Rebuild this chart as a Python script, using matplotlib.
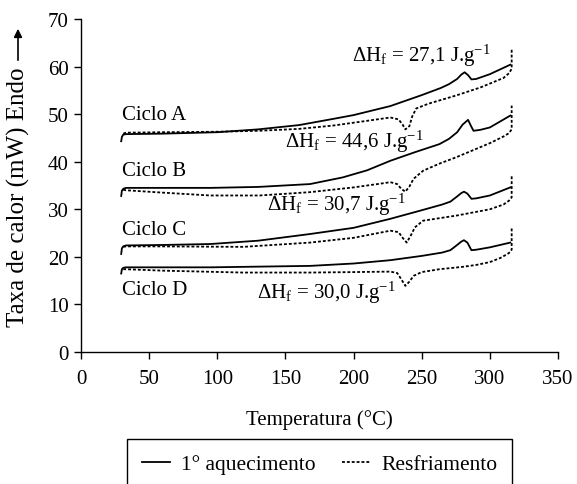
import matplotlib
matplotlib.use("Agg")
import matplotlib.pyplot as plt

plt.rcParams['font.family'] = ['Liberation Serif', 'DejaVu Serif']
plt.rcParams['mathtext.fontset'] = 'custom'
plt.rcParams['mathtext.rm'] = 'Liberation Serif'
plt.rcParams['mathtext.it'] = 'Liberation Serif:italic'

# --- dados ---
# Ciclo A
tA_aq = [29.5, 30, 31, 33, 60, 100, 130, 160, 185, 200, 227, 250, 264, 270, 276, 279, 281.5, 284, 286.5, 290, 300, 315]
yA_aq = [44.3, 45.2, 45.7, 45.8, 45.9, 46.2, 46.8, 47.7, 49.0, 49.8, 51.7, 54.0, 55.5, 56.3, 57.4, 58.3, 58.8, 58.2, 57.3, 57.4, 58.4, 60.4]
tA_rf = [31, 33, 60, 100, 130, 160, 185, 210, 227, 233, 236, 238, 241, 243, 246, 255, 275, 293, 310, 314, 316, 316]
yA_rf = [45.9, 46.1, 46.2, 46.3, 46.5, 46.9, 47.6, 48.6, 49.3, 48.9, 47.8, 46.8, 47.5, 49.5, 51.2, 52.2, 53.9, 55.6, 57.6, 58.6, 59.5, 63.7]

# Ciclo B
tB_aq = [29.5, 30, 31, 33, 60, 95, 130, 168, 192, 210, 227, 245, 263, 270, 276, 280, 284, 286, 288, 293, 300, 315]
yB_aq = [32.8, 33.9, 34.3, 34.5, 34.5, 34.5, 34.7, 35.3, 36.7, 38.2, 40.2, 42.0, 43.7, 44.8, 46.2, 47.8, 48.8, 47.6, 46.5, 46.7, 47.2, 49.7]
tB_rf = [31, 33, 60, 95, 131, 168, 200, 220, 227, 232, 235, 238, 241, 244, 251, 263, 275, 290, 300, 310, 314, 316, 316]
yB_rf = [34.1, 34.0, 33.5, 32.9, 32.9, 33.6, 34.6, 35.4, 35.7, 35.3, 34.3, 33.7, 34.8, 36.4, 38.1, 39.6, 40.9, 42.7, 43.9, 45.3, 46.0, 46.8, 51.8]

# Ciclo C
tC_aq = [29.5, 30, 31, 33, 60, 95, 130, 168, 200, 227, 250, 265, 271, 276, 279, 281, 283.5, 286.5, 290, 300, 315]
yC_aq = [20.6, 21.8, 22.2, 22.4, 22.5, 22.7, 23.4, 24.8, 26.1, 28.0, 29.8, 31.0, 31.6, 32.7, 33.4, 33.7, 33.3, 32.2, 32.3, 32.9, 34.6]
tC_rf = [31, 33, 60, 119, 168, 200, 227, 233, 236, 239, 242, 245, 251, 276, 300, 310, 314, 316, 316]
yC_rf = [22.1, 22.2, 22.2, 22.1, 23.0, 24.0, 25.5, 25.2, 24.0, 23.0, 24.5, 26.2, 27.6, 28.7, 30.0, 31.0, 31.8, 32.5, 37.0]

# Ciclo D
tD_aq = [29.5, 30, 31, 33, 60, 95, 168, 200, 227, 250, 265, 271, 276, 279, 281, 283.5, 286.5, 290, 300, 315]
yD_aq = [16.5, 17.4, 17.7, 17.8, 17.8, 17.8, 18.1, 18.6, 19.3, 20.2, 20.9, 21.4, 22.5, 23.2, 23.5, 23.0, 21.4, 21.5, 22.0, 23.0]
tD_rf = [31, 33, 60, 119, 168, 200, 227, 232, 235, 238, 241, 244, 250, 263, 280, 290, 300, 308, 314, 316, 316]
yD_rf = [17.4, 17.4, 17.1, 16.7, 16.7, 16.8, 16.9, 16.6, 15.3, 13.9, 14.8, 16.0, 16.8, 17.4, 17.9, 18.3, 18.9, 19.8, 20.8, 21.5, 26.2]

ciclos = [
    ("Ciclo A", tA_aq, yA_aq, tA_rf, yA_rf),
    ("Ciclo B", tB_aq, yB_aq, tB_rf, yB_rf),
    ("Ciclo C", tC_aq, yC_aq, tC_rf, yC_rf),
    ("Ciclo D", tD_aq, yD_aq, tD_rf, yD_rf),
]
# rótulos (x, y da linha de base)
rotulos_ciclo = [("Ciclo A", 30, 49.0), ("Ciclo B", 30, 37.3), ("Ciclo C", 30, 24.8), ("Ciclo D", 30, 12.2)]
rotulos_dh = [("27,1", 198.6, 61.2), ("44,6", 149.7, 43.1), ("30,7", 136.2, 29.9), ("30,0", 128.9, 11.4)]

fs = 15
pontilhado = (0, (1.6, 1.1))

fig = plt.figure(figsize=(5.77, 4.85), dpi=100)
ax = fig.add_axes([81/577, 1-353/485, 477/577, 333/485])

for nome, t1, y1, t2, y2 in ciclos:
    l1, = ax.plot(t1, y1, color='black', lw=1.3, solid_joinstyle='round')
    l2, = ax.plot(t2, y2, color='black', lw=1.3, linestyle=pontilhado)

for txt, x, y in rotulos_ciclo:
    ax.text(x, y, txt, fontsize=fs, ha='left', va='baseline')

for val, x, y in rotulos_dh:
    ax.text(x, y, r"ΔH$_\mathrm{f}$ = " + val + r" J.g$^{\mathrm{-1}}$", fontsize=fs, ha='left', va='baseline')

ax.set_xlim(0, 350)
ax.set_ylim(0, 70)
ax.set_xticks(range(0, 351, 50))
ax.set_yticks(range(0, 71, 10))
ax.spines['top'].set_visible(False)
ax.spines['right'].set_visible(False)
ax.spines['left'].set_linewidth(1.0)
ax.spines['bottom'].set_linewidth(1.0)
ax.tick_params(direction='out', length=5, width=1.0, labelsize=fs)
ax.tick_params(axis='x', pad=7.5)
ax.tick_params(axis='y', pad=4)
ax.set_xlabel("Temperatura (°C)", fontsize=fs)
ax.xaxis.set_label_coords(0.5, -(425-353)/333)
ax.xaxis.label.set_va('baseline')

fig.text(18/577, 1-197/485, "Taxa de calor (mW) Endo", rotation=90, fontsize=18, ha='center', va='center')
ax.annotate('', xy=(18/577, 1-27/485), xytext=(18/577, 1-64/485), xycoords='figure fraction',
            arrowprops=dict(arrowstyle='-|>', color='black', lw=1.2, mutation_scale=12))

leg = ax.legend([l1, l2], ["1° aquecimento", "Resfriamento"], loc='upper center',
                bbox_to_anchor=(319.5/577, 1-440/485), bbox_transform=fig.transFigure,
                ncol=2, frameon=True, fancybox=False, edgecolor='black', framealpha=1,
                fontsize=15.5, handlelength=1.3, handletextpad=0.5, columnspacing=1.25,
                borderpad=0.7, borderaxespad=0)
leg.get_frame().set_linewidth(1.0)

fig.savefig("out.png", dpi=100)
